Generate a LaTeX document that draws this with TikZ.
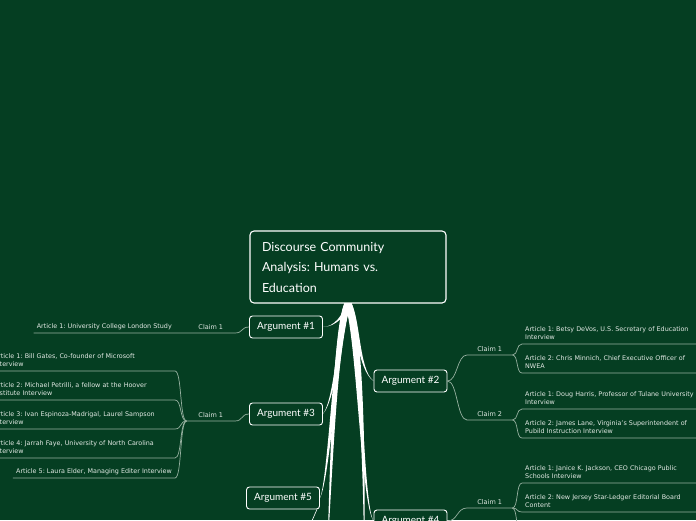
\documentclass[tikz,border=0pt]{standalone}
\usepackage{fontspec}
\setmainfont{DejaVu Sans}
\newfontfamily\handfont{Lato}
\frenchspacing
\usetikzlibrary{calc}
\definecolor{board}{RGB}{5,62,34}
\definecolor{twig}{RGB}{150,176,160}
\definecolor{chalk}{RGB}{226,233,228}
\tikzset{
  titlebox/.style={draw=white,line width=1.1pt,rounded corners=4pt,fill=board,text=white,
    minimum width=196pt,minimum height=72pt,text width=172pt,inner xsep=12pt,align=left,
    font=\handfont\frenchspacing\fontsize{12.5}{20.5}\selectfont},
  argbox/.style={draw=white,line width=0.9pt,rounded corners=3pt,fill=board,text=white,
    minimum width=73pt,minimum height=22pt,inner sep=0pt,font=\handfont\fontsize{10}{12}\selectfont},
  claim/.style={text=chalk,font=\fontsize{6.5}{8}\selectfont,inner xsep=0pt,inner ysep=3.5pt,
    text depth=0pt,minimum width=48pt},
  article/.style={text=chalk,font=\frenchspacing\fontsize{6.4}{8}\selectfont,align=left,inner xsep=3pt,
    inner ysep=4pt,text depth=0pt},
  twoline/.style={text depth=8pt},
  twig/.style={draw=twig,line width=0.7pt}
}
% tapered white branch: half width, two controls, end
\newcommand\trunk[4]{\fill[white] ($(stem)+(-#1,0)$) .. controls ($#2+(-#1*0.8,0)$) and ($#3+(-#1*0.3,0)$) .. #4
  .. controls ($#3+(#1*0.3,0)$) and ($#2+(#1*0.8,0)$) .. ($(stem)+(#1,0)$) -- cycle;}

\begin{document}
\begin{tikzpicture}[x=1pt,y=-1pt]
  \fill[board] (0,0) rectangle (696,520);
  \clip (0,0) rectangle (696,520);
  \node[titlebox] (title) at (348,267) {Discourse Community\\Analysis: Humans vs.\\Education};
  \coordinate (stem) at (348,303);
  \node[argbox] (a1) at (286,327) {Argument \#1};
  \node[argbox] (a3) at (286,414) {Argument \#3};
  \node[argbox] (a5) at (283,498) {Argument \#5};
  \node[argbox] (a2) at (410.5,381) {Argument \#2};
  \node[argbox] (a4) at (410.5,521) {Argument \#4};
  \coordinate (downl) at (327,560);
  \coordinate (downr) at (364,560);
  \coordinate (downt) at (311,523);
  \trunk{2.5}{(346,314)}{(335,327)}{(a1.east)}
  \trunk{3}{(358,318)}{(358,370)}{(a2.west)}
  \trunk{3}{(341,320)}{(336,398)}{(a3.east)}
  \trunk{3.5}{(337,330)}{(329,480)}{(a5.east)}
  \trunk{3.5}{(359,330)}{(362,505)}{(a4.west)}
  \trunk{3.5}{(335,330)}{(331,480)}{(downl)}
  \trunk{3.5}{(361,330)}{(365,480)}{(downr)}
  \draw[white,line width=0.6pt] (a5.south east) ++(-3,0) .. controls +(-3,6) .. (downt);

  % left: argument 1
  \node[claim,anchor=south east] (c11) at (235,333) {Claim 1};
  \node[article,anchor=south east] (l11) at (175,333) {Article 1: University College London Study};
  \draw[twig] (a1.west) .. controls +(-8,0) and +(8,0) .. (c11.south east) -- (c11.south west)
    .. controls +(-6,0) and +(6,0) .. (l11.south east) -- (l11.south west);

  % left: argument 3
  \node[claim,anchor=south east] (c31) at (235,421) {Claim 1};
  \node[article,twoline,anchor=south east,text width=178pt] (l31) at (175,371) {Article 1: Bill Gates, Co-founder of Microsoft\\Interview};
  \node[article,twoline,anchor=south east,text width=178pt] (l32) at (175,400) {Article 2: Michael Petrilli, a fellow at the Hoover\\Institute Interview};
  \node[article,twoline,anchor=south east,text width=178pt] (l33) at (175,429) {Article 3: Ivan Espinoza-Madrigal, Laurel Sampson\\Interview};
  \node[article,twoline,anchor=south east,text width=178pt] (l34) at (175,458) {Article 4: Jarrah Faye, University of North Carolina\\Interview};
  \node[article,anchor=south east] (l35) at (175,478) {Article 5: Laura Elder, Managing Editer Interview};
  \draw[twig] (a3.west) .. controls +(-8,0) and +(8,0) .. (c31.south east) -- (c31.south west);
  \foreach \n in {1,...,5}
    \draw[twig] (c31.south west) .. controls +(-7,0) and +(7,0) .. (l3\n.south east) -- (l3\n.south west);

  % right: argument 2
  \node[claim,anchor=south west,minimum width=45pt] (c21) at (467,355) {Claim 1};
  \node[claim,anchor=south west,minimum width=45pt] (c22) at (467,420) {Claim 2};
  \node[article,twoline,anchor=south west,text width=180pt] (r11) at (522,344) {Article 1: Betsy DeVos, U.S. Secretary of Education\\Interview};
  \node[article,twoline,anchor=south west,text width=180pt] (r12) at (522,373) {Article 2: Chris Minnich, Chief Executive Officer of\\NWEA};
  \node[article,twoline,anchor=south west,text width=180pt] (r21) at (522,409) {Article 1: Doug Harris, Professor of Tulane University\\Interview};
  \node[article,twoline,anchor=south west,text width=180pt] (r22) at (522,438) {Article 2: James Lane, Virginia's Superintendent of\\Pubild Instruction Interview};
  \foreach \c in {1,2} {
    \draw[twig] (a2.east) .. controls +(10,0) and +(-10,0) .. (c2\c.south west) -- (c2\c.south east);
    \foreach \n in {1,2}
      \draw[twig] (c2\c.south east) .. controls +(6,0) and +(-6,0) .. (r\c\n.south west) -- (r\c\n.south east);
  }

  % right: argument 4
  \node[claim,anchor=south west,minimum width=45pt] (c41) at (467,508) {Claim 1};
  \node[article,twoline,anchor=south west,text width=180pt] (r41) at (522,483) {Article 1: Janice K. Jackson, CEO Chicago Public\\Schools Interview};
  \node[article,twoline,anchor=south west,text width=180pt] (r42) at (522,512) {Article 2: New Jersey Star-Ledger Editorial Board\\Content};
  \coordinate (r43) at (522,545);
  \draw[twig] (a4.east) .. controls +(10,0) and +(-10,0) .. (c41.south west) -- (c41.south east);
  \foreach \n in {1,2}
    \draw[twig] (c41.south east) .. controls +(6,0) and +(-6,0) .. (r4\n.south west) -- (r4\n.south east);
  \draw[twig] (c41.south east) .. controls +(6,0) and +(-6,0) .. (r43);
\end{tikzpicture}
\end{document}
